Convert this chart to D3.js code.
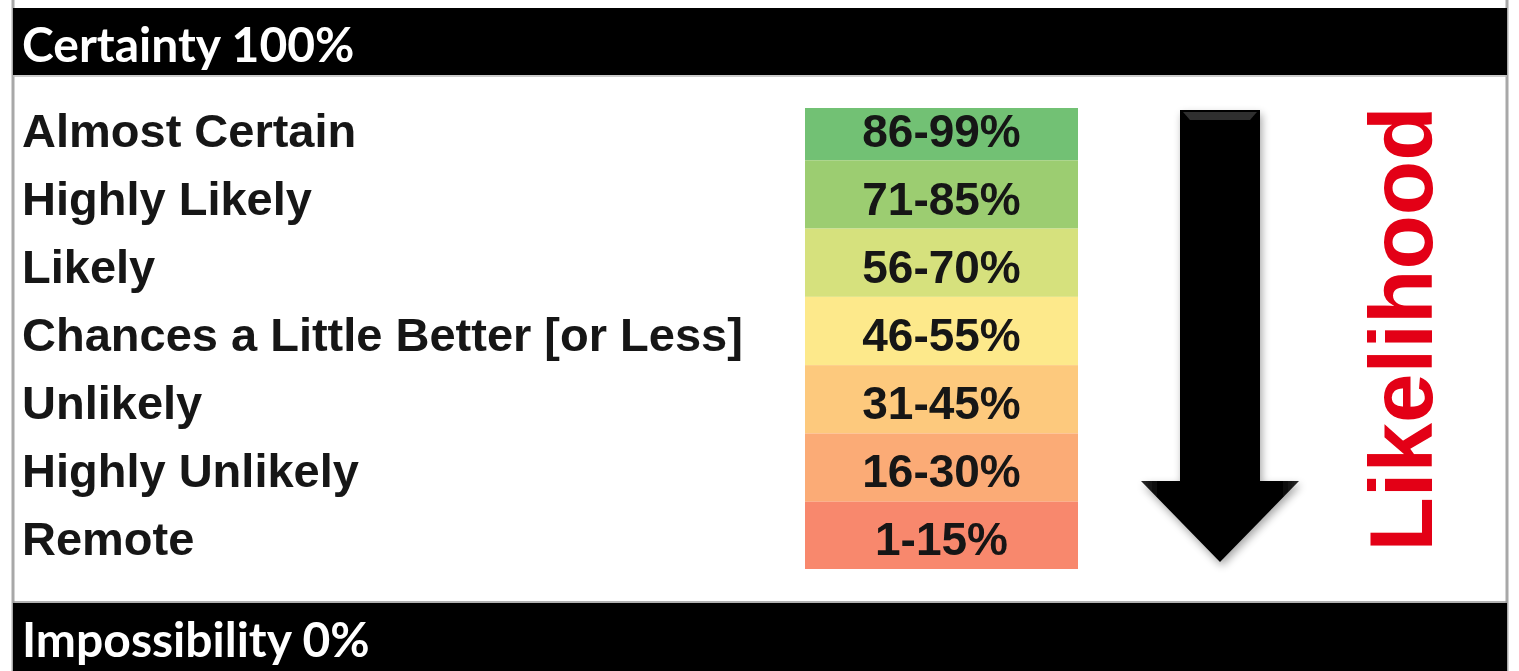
<!DOCTYPE html>
<html>
<head>
<meta charset="utf-8">
<script src="https://cdn.jsdelivr.net/npm/d3@7/dist/d3.min.js"></script>
<style>
  html, body { margin: 0; padding: 0; background: #fff; overflow: hidden; }
  svg { display: block; }
</style>
</head>
<body>
<svg id="chart" width="1519" height="671"></svg>
<script>
// ---- data ----
const categories = ["Almost Certain", "Highly Likely", "Likely", "Chances a Little Better [or Less]", "Unlikely", "Highly Unlikely", "Remote"];
const ranges = ["86-99%", "71-85%", "56-70%", "46-55%", "31-45%", "16-30%", "1-15%"];
const rowColors = ["#72c174", "#9ccd71", "#d6e17d", "#fde98b", "#fdc97d", "#fbab76", "#f8886d"];
const topLabel = "Certainty 100%";
const bottomLabel = "Impossibility 0%";
const sideLabel = "Likelihood";

// ---- layout ----
const W = 1519, H = 671;
const frameL = 13, frameR = 1507;
const svg = d3.select("#chart");

const defs = svg.append("defs");
const blur = defs.append("filter").attr("id", "soft").attr("x", "-5%").attr("y", "-5%").attr("width", "110%").attr("height", "110%");
blur.append("feGaussianBlur").attr("stdDeviation", 0.7);

const shadow = defs.append("filter").attr("id", "shadow").attr("x", "-20%").attr("y", "-10%").attr("width", "140%").attr("height", "130%");
shadow.append("feGaussianBlur").attr("in", "SourceAlpha").attr("stdDeviation", 4).attr("result", "b");
shadow.append("feOffset").attr("in", "b").attr("dx", 2).attr("dy", 4).attr("result", "o");
shadow.append("feComponentTransfer").attr("in", "o").attr("result", "o2")
  .append("feFuncA").attr("type", "linear").attr("slope", 0.35);
const merge = shadow.append("feMerge");
merge.append("feMergeNode").attr("in", "o2");
merge.append("feMergeNode").attr("in", "SourceGraphic");

const shaftGrad = defs.append("linearGradient").attr("id", "shaftGrad").attr("x1", 0).attr("x2", 1).attr("y1", 0).attr("y2", 0);
shaftGrad.append("stop").attr("offset", "0%").attr("stop-color", "#2a2a2a");
shaftGrad.append("stop").attr("offset", "12%").attr("stop-color", "#000");
shaftGrad.append("stop").attr("offset", "88%").attr("stop-color", "#000");
shaftGrad.append("stop").attr("offset", "100%").attr("stop-color", "#2a2a2a");

// frame lines
svg.append("line").attr("x1", frameL).attr("x2", frameL).attr("y1", 0).attr("y2", H)
  .attr("stroke", "#a8a8a8").attr("stroke-width", 3);
svg.append("line").attr("x1", frameR).attr("x2", frameR).attr("y1", 0).attr("y2", H)
  .attr("stroke", "#a8a8a8").attr("stroke-width", 3);

// header / footer bars
svg.append("rect").attr("x", frameL).attr("y", 8).attr("width", frameR - frameL).attr("height", 67).attr("fill", "#000");
svg.append("line").attr("x1", frameL).attr("x2", frameR).attr("y1", 76).attr("y2", 76).attr("stroke", "#bbb").attr("stroke-width", 1.5);
svg.append("rect").attr("x", frameL).attr("y", 603).attr("width", frameR - frameL).attr("height", H - 603).attr("fill", "#000");
svg.append("line").attr("x1", frameL).attr("x2", frameR).attr("y1", 602).attr("y2", 602).attr("stroke", "#999").attr("stroke-width", 1.5);

svg.append("text").attr("x", 22).attr("y", 62).text(topLabel)
  .attr("fill", "#fff").attr("font-family", "Lato, 'Open Sans', sans-serif").attr("font-weight", 700)
  .attr("font-size", 48).attr("filter", "url(#soft)");
svg.append("text").attr("x", 22).attr("y", 657).text(bottomLabel)
  .attr("fill", "#fff").attr("font-family", "Lato, 'Open Sans', sans-serif").attr("font-weight", 700)
  .attr("font-size", 48).attr("filter", "url(#soft)");

// row scale
const y = d3.scaleBand().domain(categories).range([92, 570]).paddingInner(0);
const blockTop = 108, blockBottom = 569;
const x = d3.scaleBand().domain(["range"]).range([805, 1078]);

const rows = categories.map((c, i) => ({ cat: c, range: ranges[i], color: rowColors[i] }));

svg.append("g").selectAll("rect").data(rows).join("rect")
  .attr("x", x("range"))
  .attr("width", x.bandwidth())
  .attr("y", d => Math.max(y(d.cat), blockTop))
  .attr("height", d => Math.min(y(d.cat) + y.bandwidth(), blockBottom) - Math.max(y(d.cat), blockTop))
  .attr("fill", d => d.color);

const labelFont = "'Liberation Sans', Arial, sans-serif";
const textY = (d, i) => y(d.cat) + y.bandwidth() / 2 + 21 - i * 0.3;

svg.append("g").selectAll("text").data(rows).join("text")
  .attr("x", 22)
  .attr("y", textY)
  .text(d => d.cat)
  .attr("font-family", labelFont).attr("font-weight", 700).attr("font-size", 47)
  .attr("fill", "#141414").attr("filter", "url(#soft)");

svg.append("g").selectAll("text").data(rows).join("text")
  .attr("x", x("range") + x.bandwidth() / 2)
  .attr("y", textY)
  .attr("text-anchor", "middle")
  .text(d => d.range)
  .attr("font-family", labelFont).attr("font-weight", 700).attr("font-size", 46)
  .attr("fill", "#141414").attr("filter", "url(#soft)");

// arrow
const ax = 1220, shaftHalf = 40, headHalf = 79, arrowTop = 110, headTop = 481, tip = 562;
const p = d3.path();
p.moveTo(ax - shaftHalf, arrowTop);
p.lineTo(ax + shaftHalf, arrowTop);
p.lineTo(ax + shaftHalf, headTop);
p.lineTo(ax + headHalf, headTop);
p.lineTo(ax, tip);
p.lineTo(ax - headHalf, headTop);
p.lineTo(ax - shaftHalf, headTop);
p.closePath();
svg.append("path").attr("d", p.toString()).attr("fill", "url(#shaftGrad)").attr("filter", "url(#shadow)");
// bevel highlight on top edge
svg.append("path")
  .attr("d", `M${ax - shaftHalf + 3},${arrowTop + 2} L${ax + shaftHalf - 3},${arrowTop + 2} L${ax + shaftHalf - 10},${arrowTop + 10} L${ax - shaftHalf + 10},${arrowTop + 10} Z`)
  .attr("fill", "#3a3a3a").attr("opacity", 0.8).attr("filter", "url(#soft)");

// side label
svg.append("text")
  .attr("transform", `translate(1432,329) rotate(-90)`)
  .attr("text-anchor", "middle")
  .text(sideLabel)
  .attr("font-family", labelFont).attr("font-weight", 700).attr("font-size", 89)
  .attr("fill", "#e30613").attr("filter", "url(#soft)");
</script>
</body>
</html>
